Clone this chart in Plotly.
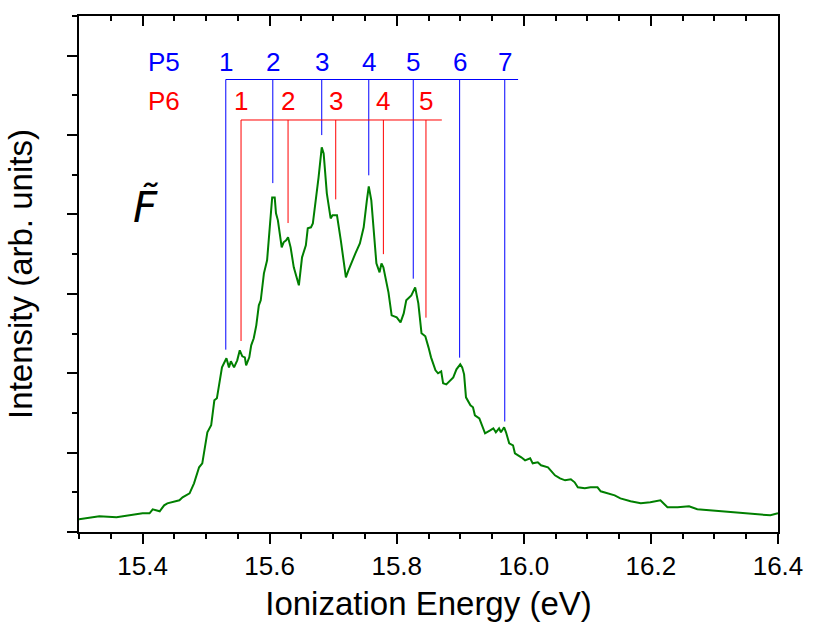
import plotly.graph_objects as go

# ---- spectrum ----
energy = [
    15.300, 15.317, 15.332, 15.359, 15.379, 15.400, 15.411, 15.416, 15.427, 15.434,
    15.439, 15.450, 15.458, 15.463, 15.474, 15.481, 15.489, 15.494, 15.502, 15.508,
    15.513, 15.517, 15.524, 15.525, 15.532, 15.536, 15.539, 15.544, 15.549, 15.553,
    15.557, 15.561, 15.563, 15.568, 15.571, 15.575, 15.579, 15.583, 15.586, 15.591,
    15.596, 15.604, 15.608, 15.610, 15.613, 15.619, 15.622, 15.626, 15.629, 15.633,
    15.638, 15.646, 15.651, 15.657, 15.660, 15.665, 15.668, 15.673, 15.677, 15.682,
    15.685, 15.690, 15.696, 15.699, 15.706, 15.712, 15.720, 15.724, 15.729, 15.735,
    15.742, 15.748, 15.753, 15.756, 15.760, 15.764, 15.768, 15.773, 15.776, 15.779,
    15.782, 15.787, 15.792, 15.800, 15.806, 15.811, 15.815, 15.823, 15.829, 15.834,
    15.839, 15.845, 15.850, 15.854, 15.861, 15.865, 15.870, 15.873, 15.878, 15.884,
    15.889, 15.894, 15.900, 15.903, 15.906, 15.909, 15.916, 15.920, 15.923, 15.930,
    15.936, 15.939, 15.947, 15.952, 15.956, 15.961, 15.964, 15.969, 15.972, 15.977,
    15.983, 15.986, 15.996, 16.002, 16.010, 16.014, 16.022, 16.027, 16.038, 16.044,
    16.049, 16.057, 16.065, 16.074, 16.080, 16.085, 16.096, 16.105, 16.116, 16.121,
    16.132, 16.143, 16.152, 16.168, 16.184, 16.199, 16.215, 16.226, 16.242, 16.260,
    16.273, 16.293, 16.309, 16.325, 16.347, 16.367, 16.388, 16.400,
]
intensity = [
    0.160, 0.185, 0.198, 0.185, 0.210, 0.236, 0.236, 0.286, 0.261, 0.336,
    0.361, 0.387, 0.399, 0.437, 0.487, 0.613, 0.815, 0.865, 1.256, 1.344,
    1.659, 1.684, 1.999, 2.074, 2.188, 2.074, 2.150, 2.074, 2.162, 2.288,
    2.213, 2.200, 2.099, 2.200, 2.351, 2.440, 2.603, 2.855, 2.918, 3.258,
    3.422, 4.215, 4.215, 4.014, 3.926, 3.586, 3.649, 3.674, 3.712, 3.586,
    3.334, 3.107, 3.460, 3.611, 3.825, 3.838, 3.888, 4.178, 4.467, 4.845,
    4.769, 4.266, 3.951, 3.989, 3.989, 3.674, 3.208, 3.296, 3.384, 3.510,
    3.636, 3.838, 4.178, 4.354, 4.178, 3.762, 3.384, 3.271, 3.384, 3.334,
    3.208, 3.019, 2.729, 2.704, 2.641, 2.754, 2.918, 2.981, 3.082, 2.880,
    2.503, 2.465, 2.326, 2.200, 2.037, 1.999, 2.024, 1.873, 1.860, 1.911,
    1.948, 2.049, 2.112, 2.074, 1.986, 1.696, 1.596, 1.571, 1.470, 1.432,
    1.306, 1.243, 1.281, 1.306, 1.256, 1.306, 1.256, 1.319, 1.256, 1.117,
    1.092, 0.991, 0.941, 0.903, 0.928, 0.865, 0.878, 0.840, 0.815, 0.752,
    0.714, 0.676, 0.651, 0.664, 0.626, 0.563, 0.550, 0.563, 0.563, 0.513,
    0.487, 0.462, 0.424, 0.387, 0.361, 0.374, 0.399, 0.311, 0.311, 0.324,
    0.286, 0.273, 0.261, 0.248, 0.236, 0.223, 0.210, 0.236,
]
assert len(energy) == len(intensity)

# ---- progression assignments ----
p5_energy = [15.531, 15.605, 15.682, 15.756, 15.826, 15.899, 15.970]
p5_bottom = [2.297, 4.395, 5.000, 4.493, 3.191, 2.196, 1.392]
p5_labels = ["1", "2", "3", "4", "5", "6", "7"]
p5_bar_y = 5.70
p5_bar_end = 15.991
p5_label_y = 5.92

p6_energy = [15.555, 15.629, 15.704, 15.779, 15.846]
p6_bottom = [2.406, 3.892, 4.190, 3.500, 2.700]
p6_labels = ["1", "2", "3", "4", "5"]
p6_bar_y = 5.19
p6_bar_end = 15.871
p6_label_y = 5.43

series_label_x = 15.434
state_label = "F\u0303"
state_label_pos = (15.405, 4.10)

x_range = [15.3, 16.4]
y_range = [0, 6.5]

FONT = "Liberation Sans, Arial, sans-serif"
BLUE = "#0000ff"
RED = "#ff0000"


def bracket(xs, bottoms, bar_y, bar_end):
    bx, by = [xs[0], bar_end, None], [bar_y, bar_y, None]
    for x, b in zip(xs, bottoms):
        bx += [x, x, None]
        by += [bar_y, b, None]
    return bx, by


fig = go.Figure()

p5x, p5y = bracket(p5_energy, p5_bottom, p5_bar_y, p5_bar_end)
p6x, p6y = bracket(p6_energy, p6_bottom, p6_bar_y, p6_bar_end)
fig.add_trace(go.Scatter(x=p5x, y=p5y, mode="lines",
                         line=dict(color=BLUE, width=1), hoverinfo="skip"))
fig.add_trace(go.Scatter(x=p6x, y=p6y, mode="lines",
                         line=dict(color=RED, width=1), hoverinfo="skip"))
fig.add_trace(go.Scatter(x=energy, y=intensity, mode="lines",
                         line=dict(color="#007f00", width=2)))
# invisible trace to hold the top axis
fig.add_trace(go.Scatter(x=[x_range[0]], y=[None], xaxis="x2",
                         mode="lines", hoverinfo="skip"))

ann = []
ann.append(dict(x=series_label_x, y=p5_label_y, text="P5", showarrow=False,
                font=dict(color=BLUE, size=26, family=FONT), xanchor="center", yanchor="middle"))
ann.append(dict(x=series_label_x, y=p6_label_y, text="P6", showarrow=False,
                font=dict(color=RED, size=26, family=FONT), xanchor="center", yanchor="middle"))
for x, t in zip(p5_energy, p5_labels):
    ann.append(dict(x=x, y=p5_label_y, text=t, showarrow=False,
                    font=dict(color=BLUE, size=26, family=FONT), xanchor="center", yanchor="middle"))
for x, t in zip(p6_energy, p6_labels):
    ann.append(dict(x=x, y=p6_label_y, text=t, showarrow=False,
                    font=dict(color=RED, size=26, family=FONT), xanchor="center", yanchor="middle"))
ann.append(dict(x=state_label_pos[0], y=state_label_pos[1], text="<i>" + state_label + "</i>",
                showarrow=False, font=dict(color="black", size=42, family="DejaVu Sans"),
                xanchor="center", yanchor="middle"))

fig.update_layout(
    width=815, height=630,
    margin=dict(l=79, r=34, t=16, b=98),
    paper_bgcolor="white", plot_bgcolor="white",
    showlegend=False,
    annotations=ann,
    font=dict(family=FONT, color="black"),
    xaxis=dict(
        range=x_range, showgrid=False, zeroline=False,
        showline=True, linecolor="black", linewidth=2,
        ticks="outside", ticklen=10, tickwidth=2, tickcolor="black",
        tick0=15.4, dtick=0.2, tickformat=".1f",
        tickfont=dict(size=26, family=FONT),
        minor=dict(ticks="outside", ticklen=5, tickwidth=2, tickcolor="black",
                   dtick=0.05, tick0=15.3),
        title=dict(text="Ionization Energy (eV)", font=dict(size=33, family=FONT), standoff=12),
    ),
    xaxis2=dict(
        range=x_range, overlaying="x", side="top", showgrid=False, zeroline=False,
        showline=True, linecolor="black", linewidth=2,
        ticks="inside", ticklen=10, tickwidth=2, tickcolor="black",
        tick0=15.4, dtick=0.2, showticklabels=False,
        minor=dict(ticks="inside", ticklen=5, tickwidth=2, tickcolor="black",
                   dtick=0.05, tick0=15.3),
    ),
    yaxis=dict(
        range=y_range, showgrid=False, zeroline=False,
        showline=True, linecolor="black", linewidth=2, mirror=True,
        ticks="outside", ticklen=10, tickwidth=2, tickcolor="black",
        tick0=0, dtick=1, showticklabels=False,
        minor=dict(ticks="outside", ticklen=5, tickwidth=2, tickcolor="black",
                   dtick=0.5, tick0=0),
        title=dict(text="Intensity (arb. units)", font=dict(size=33, family=FONT), standoff=24),
    ),
)

fig.write_html("out.html")
